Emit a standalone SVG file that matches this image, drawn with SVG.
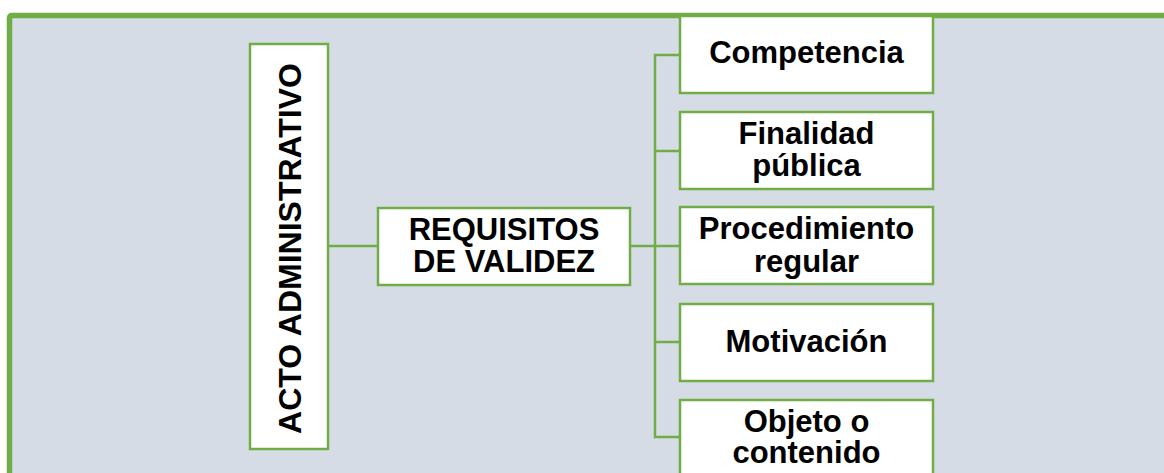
<svg xmlns="http://www.w3.org/2000/svg" width="1164" height="473" viewBox="0 0 1164 473">
  <style>
    .box { fill: #FFFFFF; stroke: #70AD47; stroke-width: 2.5; }
    .lbl { font-family: "Liberation Sans", Arial, sans-serif; font-weight: bold; font-size: 31px; fill: #000000; text-anchor: middle; }
    .conn { fill: none; stroke: #70AD47; stroke-width: 2.5; }
  </style>
  <rect x="0" y="0" width="1164" height="473" fill="#FFFFFF"/>
  <rect id="frame" x="9.5" y="15.5" width="1170" height="480" rx="2" fill="#D6DCE5" stroke="#70AD47" stroke-width="5.5"/>

  <g id="connectors">
    <line class="conn" x1="328" y1="246" x2="378" y2="246"/>
    <line class="conn" x1="630" y1="246" x2="680" y2="246"/>
    <polyline class="conn" points="680,55 655,55 655,437 680,437"/>
    <line class="conn" x1="655" y1="151" x2="680" y2="151"/>
    <line class="conn" x1="655" y1="342" x2="680" y2="342"/>
  </g>

  <g id="acto">
    <rect class="box" x="250" y="44" width="78" height="405"/>
    <text class="lbl" style="font-size:32px" transform="translate(300.5,248.5) rotate(-90)" x="0" y="0">ACTO ADMINISTRATIVO</text>
  </g>

  <g id="requisitos">
    <rect class="box" x="378" y="208" width="252" height="77"/>
    <text class="lbl" x="504" y="240">REQUISITOS</text>
    <text class="lbl" x="504" y="272">DE VALIDEZ</text>
  </g>

  <g id="competencia">
    <rect class="box" x="680" y="16" width="253" height="77"/>
    <text class="lbl" x="806.5" y="63">Competencia</text>
  </g>

  <g id="finalidad">
    <rect class="box" x="680" y="112" width="253" height="77"/>
    <text class="lbl" x="806.5" y="144">Finalidad</text>
    <text class="lbl" x="806.5" y="176">pública</text>
  </g>

  <g id="procedimiento">
    <rect class="box" x="680" y="207" width="253" height="77"/>
    <text class="lbl" x="806.5" y="239">Procedimiento</text>
    <text class="lbl" x="806.5" y="272">regular</text>
  </g>

  <g id="motivacion">
    <rect class="box" x="680" y="304" width="253" height="77"/>
    <text class="lbl" x="806.5" y="352">Motivación</text>
  </g>

  <g id="objeto">
    <rect class="box" x="680" y="400" width="253" height="77"/>
    <text class="lbl" x="806.5" y="432">Objeto o</text>
    <text class="lbl" x="806.5" y="463">contenido</text>
  </g>
</svg>
